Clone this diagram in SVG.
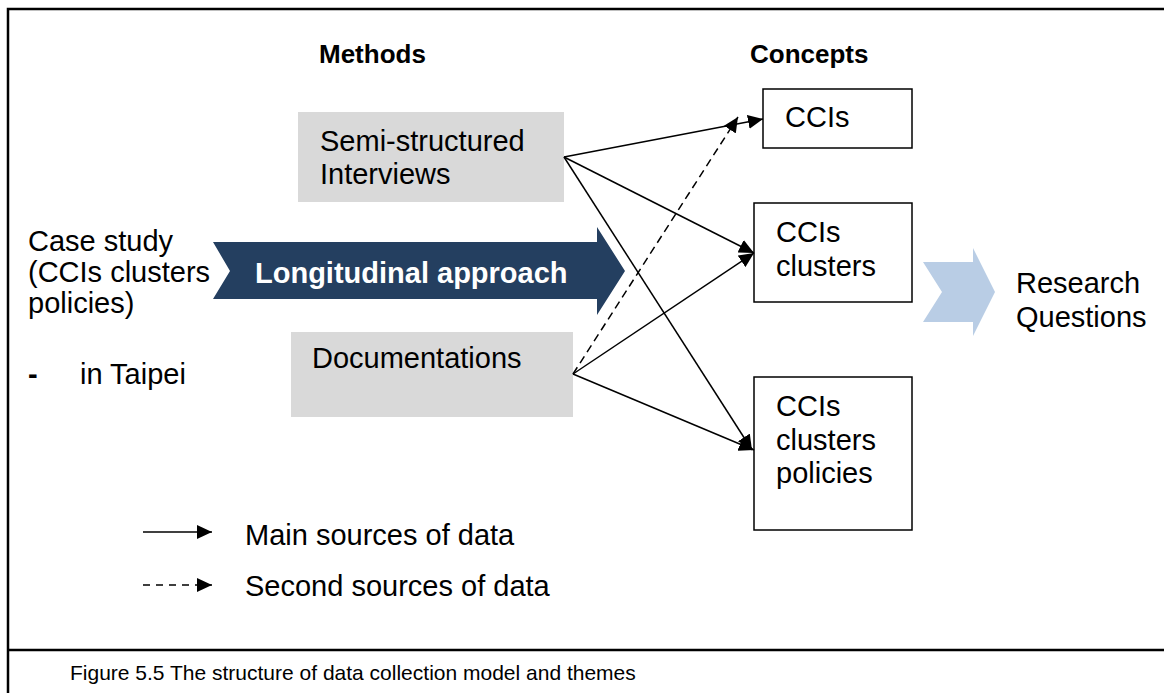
<svg xmlns="http://www.w3.org/2000/svg" width="1164" height="693" viewBox="0 0 1164 693">
<style>
text{font-family:"Liberation Sans",Arial,sans-serif;font-size:29px;fill:#000}
.title{font-weight:bold;font-size:26px}
.method{fill:#d9d9d9}
.concept{fill:#fff;stroke:#000;stroke-width:1.5}
.conn{stroke:#000;stroke-width:1.5;fill:none}
.dash{stroke-dasharray:8,5}
.ldash{stroke-dasharray:7,6}
.frame{stroke:#000;stroke-width:2.5;fill:none}
</style>
<defs>
<marker id="ah" markerUnits="userSpaceOnUse" markerWidth="16" markerHeight="14" refX="15" refY="7" orient="auto">
<path d="M0,0 L15,7 L0,14 z" fill="#000"/>
</marker>
</defs>
<rect width="1164" height="693" fill="#fff"/>
<g id="frame">
<path class="frame" d="M8,693 L8,9 L1164,9"/>
<path class="frame" d="M8,650 L1164,650"/>
</g>
<g id="titles">
<text class="title" x="319" y="63">Methods</text>
<text class="title" x="750" y="63">Concepts</text>
</g>
<g id="case-study">
<text x="28" y="251">Case study</text>
<text x="28" y="282">(CCIs clusters</text>
<text x="28" y="313">policies)</text>
<text x="28" y="384" style="font-weight:bold">-</text>
<text x="80" y="384">in Taipei</text>
</g>
<g id="longitudinal">
<path d="M213,242 L597,242 L597,227 L625,271 L597,315 L597,299 L213,299 L230,271 z" fill="#243f60"/>
<text x="255" y="283" style="font-weight:bold;fill:#fff">Longitudinal approach</text>
</g>
<g id="interviews">
<rect class="method" x="298" y="112" width="266" height="90"/>
<text x="320" y="151">Semi-structured</text>
<text x="320" y="184">Interviews</text>
</g>
<g id="documentations">
<rect class="method" x="291" y="332" width="282" height="85"/>
<text x="312" y="368">Documentations</text>
</g>
<g id="ccis">
<rect class="concept" x="763" y="89" width="149" height="59"/>
<text x="785" y="127">CCIs</text>
</g>
<g id="ccis-clusters">
<rect class="concept" x="754" y="203" width="158" height="99"/>
<text x="776" y="242">CCIs</text>
<text x="776" y="276">clusters</text>
</g>
<g id="ccis-clusters-policies">
<rect class="concept" x="754" y="377" width="158" height="153"/>
<text x="776" y="416">CCIs</text>
<text x="776" y="450">clusters</text>
<text x="776" y="483">policies</text>
</g>
<g id="research-questions">
<path d="M923,262 L973,262 L973,248 L995,292 L973,336 L973,322 L923,322 L942,292 z" fill="#b9cde5"/>
<text x="1016" y="293">Research</text>
<text x="1016" y="327">Questions</text>
</g>
<g id="connectors">
<line class="conn" x1="564" y1="157" x2="763" y2="119" marker-end="url(#ah)"/>
<line class="conn" x1="564" y1="157" x2="754" y2="253" marker-end="url(#ah)"/>
<line class="conn" x1="564" y1="157" x2="752" y2="450" marker-end="url(#ah)"/>
<line class="conn" x1="573" y1="374" x2="754" y2="253" marker-end="url(#ah)"/>
<line class="conn" x1="573" y1="374" x2="754" y2="450" marker-end="url(#ah)"/>
<line class="conn dash" x1="573" y1="374" x2="738" y2="117" marker-end="url(#ah)"/>
</g>
<g id="legend">
<line class="conn" x1="143" y1="532" x2="212" y2="532" marker-end="url(#ah)"/>
<text x="245" y="545">Main sources of data</text>
<line class="conn ldash" x1="143" y1="585" x2="212" y2="585" marker-end="url(#ah)"/>
<text x="245" y="596">Second sources of data</text>
</g>
<g id="caption">
<text x="70" y="680" style="font-size:21px">Figure 5.5 The structure of data collection model and themes</text>
</g>
</svg>
